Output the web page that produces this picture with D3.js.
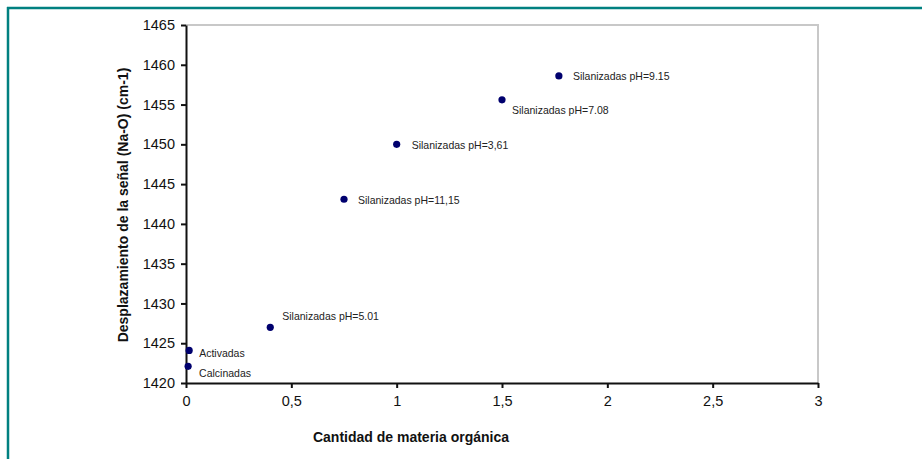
<!DOCTYPE html>
<html>
<head>
<meta charset="utf-8">
<script src="https://cdn.jsdelivr.net/npm/d3@7"></script>
<style>
  html, body { margin: 0; padding: 0; background: #fff; }
  svg { display: block; }
</style>
</head>
<body>
<svg id="chart" width="922" height="459"></svg>
<script>
// ---- data ----
const labels = ["Calcinadas", "Activadas", "Silanizadas pH=5.01", "Silanizadas pH=11,15",
                "Silanizadas pH=3,61", "Silanizadas pH=7.08", "Silanizadas pH=9.15"];
const xValues = [0.01, 0.015, 0.40, 0.75, 1.0, 1.5, 1.77];
const yValues = [1422.1, 1424.1, 1427.0, 1443.1, 1450.0, 1455.6, 1458.6];
const xTicks = [0, 0.5, 1, 1.5, 2, 2.5, 3];
const yTicks = [1420, 1425, 1430, 1435, 1440, 1445, 1450, 1455, 1460, 1465];
const xTitle = "Cantidad de materia orgánica";
const yTitle = "Desplazamiento de la señal (Na-O) (cm-1)";

// label offsets (layout, not data)
const labelOffsets = [[11, 8], [10, 4], [12, -10], [14, 2], [15, 2], [10, 11], [14, 1]];

const svg = d3.select("#chart");
const font = "'Liberation Sans', Arial, sans-serif";

// frame
svg.append("line").attr("x1", 8).attr("x2", 8).attr("y1", 7).attr("y2", 459)
  .attr("stroke", "#008080").attr("stroke-width", 2.5);
svg.append("line").attr("x1", 7).attr("x2", 922).attr("y1", 8).attr("y2", 8)
  .attr("stroke", "#008080").attr("stroke-width", 2.5);

const pLeft = 186, pRight = 818, pTop = 25, pBottom = 383;
const x = d3.scaleLinear().domain([0, 3]).range([pLeft, pRight]);
const y = d3.scaleLinear().domain([1420, 1465]).range([pBottom, pTop]);

// plot area border (top & right gray)
svg.append("path")
  .attr("d", `M${pLeft},${pTop}H${pRight}V${pBottom}`)
  .attr("fill", "none").attr("stroke", "#c8c8c8").attr("stroke-width", 2);

const fmt = d => String(d).replace(".", ",");

const xAxis = svg.append("g").attr("transform", `translate(0,${pBottom})`)
  .call(d3.axisBottom(x).tickValues(xTicks).tickFormat(fmt).tickSize(5).tickSizeOuter(0).tickPadding(8));
const yAxis = svg.append("g").attr("transform", `translate(${pLeft},0)`)
  .call(d3.axisLeft(y).tickValues(yTicks).tickFormat(d => d).tickSize(5).tickSizeOuter(0).tickPadding(6));

[xAxis, yAxis].forEach(g => {
  g.select(".domain").attr("stroke", "#111").attr("stroke-width", 2);
  g.selectAll(".tick line").attr("stroke", "#111").attr("stroke-width", 2);
  g.selectAll(".tick text").attr("font-family", font).attr("font-size", 14.5).attr("fill", "#111");
});

// points
svg.append("g").selectAll("circle").data(xValues).join("circle")
  .attr("cx", (d) => x(d))
  .attr("cy", (d, i) => y(yValues[i]))
  .attr("r", 3.6)
  .attr("fill", "#00006e");

// point labels
svg.append("g").selectAll("text").data(labels).join("text")
  .attr("x", (d, i) => x(xValues[i]) + labelOffsets[i][0])
  .attr("y", (d, i) => y(yValues[i]) + labelOffsets[i][1])
  .attr("dominant-baseline", "middle")
  .attr("font-family", font).attr("font-size", 10.5).attr("fill", "#222")
  .text(d => d);

// axis titles
svg.append("text")
  .attr("x", 411).attr("y", 442)
  .attr("text-anchor", "middle")
  .attr("font-family", font).attr("font-size", 14).attr("font-weight", "bold").attr("fill", "#111")
  .text(xTitle);

svg.append("text")
  .attr("transform", "translate(128,205) rotate(-90)")
  .attr("text-anchor", "middle")
  .attr("font-family", font).attr("font-size", 14).attr("font-weight", "bold").attr("fill", "#111")
  .text(yTitle);
</script>
</body>
</html>
